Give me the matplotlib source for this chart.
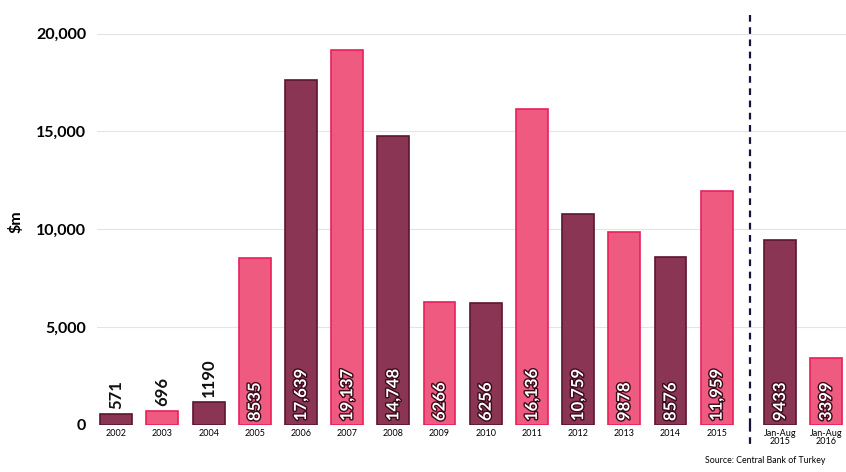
import numpy as np
import matplotlib.pyplot as plt
import matplotlib.patheffects as pe

plt.rcParams['font.family'] = ['Lato', 'DejaVu Sans']

labels = ['2002', '2003', '2004', '2005', '2006', '2007', '2008', '2009', '2010',
          '2011', '2012', '2013', '2014', '2015', 'Jan-Aug\n2015', 'Jan-Aug\n2016']
values = [571, 696, 1190, 8535, 17639, 19137, 14748, 6266, 6256,
          16136, 10759, 9878, 8576, 11959, 9433, 3399]
value_text = ['571', '696', '1190', '8535', '17,639', '19,137', '14,748', '6266', '6256',
              '16,136', '10,759', '9878', '8576', '11,959', '9433', '3399']

dark, dark_edge = '#8a3553', '#5c1530'
pink, pink_edge = '#ee5a80', '#e8205a'

# gap between full years and the Jan-Aug pair
x = np.arange(len(values), dtype=float)
x[14:] += 0.37

fig = plt.figure(figsize=(8.46, 4.72), dpi=100)
ax = fig.add_axes([0.115, 0.0996, 0.885, 0.879])

for i, (xi, v) in enumerate(zip(x, values)):
    fc, ec = (dark, dark_edge) if i % 2 == 0 else (pink, pink_edge)
    ax.bar(xi, v, width=0.69, color=fc, edgecolor=ec, linewidth=1.2, zorder=3)
    if v < 2000:
        ax.text(xi, v + 250, value_text[i], rotation=90, ha='center', va='bottom',
                fontsize=12, fontweight='bold', color='#111111', zorder=4)
    else:
        ax.text(xi, 200, value_text[i], rotation=90, ha='center', va='bottom',
                fontsize=12, fontweight='bold', color='white', zorder=4,
                path_effects=[pe.withStroke(linewidth=2, foreground='#3a0a1a')])

ax.axvline(13.72, ymin=0, ymax=1, color='#14143a', linestyle=(0, (3, 2.5)),
           linewidth=1.6, zorder=5)
ax.plot([13.72, 13.72], [0, -1100], color='#14143a', linestyle=(0, (3, 2.5)),
        linewidth=1.6, clip_on=False)

ax.set_xlim(-0.41, 15.8)
ax.set_ylim(0, 21200)
ax.set_yticks([0, 5000, 10000, 15000, 20000])
ax.set_yticklabels(['0', '5,000', '10,000', '15,000', '20,000'],
                   fontsize=11.5, fontweight='bold')
ax.set_xticks(x)
ax.set_xticklabels(labels, fontsize=6.5, linespacing=0.9)
ax.tick_params(axis='both', length=0, pad=3)
ax.tick_params(axis='y', pad=8)
ax.grid(axis='y', color='#e4e4e4', linewidth=0.8, zorder=0)
for s in ax.spines.values():
    s.set_visible(False)

ax.set_ylabel('$m', fontsize=11.5, fontweight='bold', labelpad=0)
ax.yaxis.set_label_coords(-0.098, 0.49)

fig.text(0.833, 0.015, 'Source: Central Bank of Turkey', fontsize=6.3, ha='left', va='bottom')

fig.savefig('out.png', dpi=100)
